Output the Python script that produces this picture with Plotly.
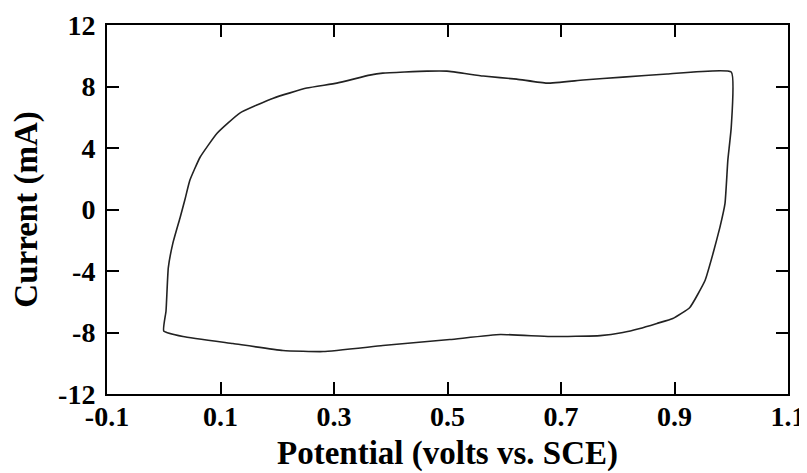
import plotly.graph_objects as go

# Forward (anodic) scan: 0.0 V -> 1.0 V
potential_forward = [0.000, 0.004, 0.008, 0.016, 0.029, 0.037, 0.046, 0.064, 0.094,
                     0.134, 0.193, 0.252, 0.305, 0.363, 0.386, 0.464, 0.499, 0.563,
                     0.622, 0.675, 0.739, 0.809, 0.887, 1.000]
current_forward = [-7.9, -6.6, -3.8, -2.2, -0.5, 0.6, 1.9, 3.4, 4.96,
                   6.27, 7.24, 7.9, 8.22, 8.74, 8.87, 9.0, 9.0, 8.68,
                   8.48, 8.22, 8.42, 8.61, 8.81, 8.94]

# Reverse (cathodic) scan: 1.0 V -> 0.0 V
potential_reverse = [1.000, 0.994, 0.989, 0.980, 0.968, 0.954, 0.927, 0.897, 0.869,
                     0.839, 0.809, 0.769, 0.681, 0.593, 0.504, 0.386, 0.281, 0.210,
                     0.122, 0.034, 0.000]
current_reverse = [5.36, 3.21, 0.4, -1.16, -2.85, -4.6, -6.37, -7.09, -7.41,
                   -7.74, -8.0, -8.2, -8.26, -8.13, -8.46, -8.85, -9.24, -9.17,
                   -8.72, -8.26, -7.9]

x_ticks = [-0.1, 0.1, 0.3, 0.5, 0.7, 0.9, 1.1]
x_tick_labels = ["-0.1", "0.1", "0.3", "0.5", "0.7", "0.9", "1.1"]
y_ticks = [-12, -8, -4, 0, 4, 8, 12]
y_tick_labels = ["-12", "-8", "-4", "0", "4", "8", "12"]

fig = go.Figure()
fig.add_trace(go.Scatter(
    x=potential_forward + potential_reverse,
    y=current_forward + current_reverse,
    mode="lines",
    line=dict(color="#222222", width=1.6, shape="spline", smoothing=0.4),
    showlegend=False,
))

font_family = "Liberation Serif, Times New Roman, serif"

# the page body has an 8px default margin, so the figure is sized to fit the window
fig.update_layout(
    template="none",
    width=799, height=465,
    margin=dict(l=99, r=19, t=17, b=79),
    paper_bgcolor="white",
    plot_bgcolor="white",
    font=dict(family=font_family, color="black"),
    xaxis=dict(
        automargin=False,
        range=[-0.1, 1.1],
        tickvals=x_ticks, ticktext=["<b>%s</b>" % t for t in x_tick_labels],
        ticks="inside", ticklen=12, tickwidth=1.5, tickcolor="black",
        showline=True, linecolor="black", linewidth=2, mirror="ticks",
        showgrid=False, zeroline=False,
        tickfont=dict(size=28, family=font_family),
        ticklabelstandoff=-4,
        ticklabeloverflow="allow",
        title=dict(text="<b>Potential (volts vs. SCE)</b>", font=dict(size=33, family=font_family),
                   standoff=10),
    ),
    yaxis=dict(
        automargin=False,
        range=[-12, 12],
        tickvals=y_ticks, ticktext=["<b>%s</b>" % t for t in y_tick_labels],
        ticks="inside", ticklen=12, tickwidth=1.5, tickcolor="black",
        showline=True, linecolor="black", linewidth=2, mirror="ticks",
        showgrid=False, zeroline=False,
        tickfont=dict(size=28, family=font_family),
        ticklabelstandoff=4,
        ticklabeloverflow="allow",
        title=dict(text="<b>Current (mA)</b>", font=dict(size=33, family=font_family)),
    ),
)

fig.write_html("out.html")
